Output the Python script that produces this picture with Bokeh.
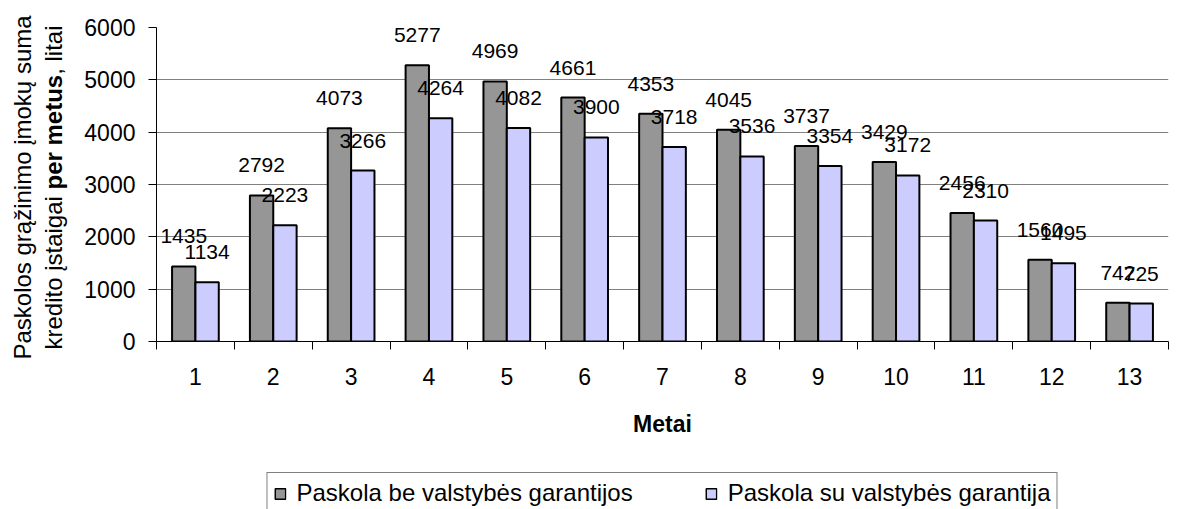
import math
from bokeh.plotting import figure
from bokeh.layouts import row, column
from bokeh.models import (ColumnDataSource, FixedTicker, LabelSet, Legend, LegendItem, Range1d)
from bokeh.core.properties import value
from bokeh.transform import dodge
from bokeh.embed import file_html
from bokeh.resources import INLINE

# ---- data ----
years = ["1", "2", "3", "4", "5", "6", "7", "8", "9", "10", "11", "12", "13"]
be_garantijos = [1435, 2792, 4073, 5277, 4969, 4661, 4353, 4045, 3737, 3429, 2456, 1560, 742]
su_garantija = [1134, 2223, 3266, 4264, 4082, 3900, 3718, 3536, 3354, 3172, 2310, 1495, 725]
series_names = ["Paskola be valstybės garantijos", "Paskola su valstybės garantija"]
y_ticks = [0, 1000, 2000, 3000, 4000, 5000, 6000]
x_title = "Metai"
y_title_line1 = "Paskolos grąžinimo įmokų suma"
y_title_line2 = [("kredito įstaigai ", "normal"), ("per metus", "bold"), (", litai", "normal")]

FONT = "Liberation Sans"
GRAY = "#969696"
BLUE = "#CCCCFF"

# ---- layout (page px) ----
PW, PH = 1181, 509
TW = 75                     # width of the y-title strip
FL, FR, FT, FB = 156, 1168, 27, 341   # plot frame edges on the page
MH = 455                    # main figure height
LH = PH - MH                # legend strip height

xs = list(range(1, len(years) + 1))
src = ColumnDataSource(dict(
    x=xs, be=be_garantijos, su=su_garantija,
    be_txt=[str(v) for v in be_garantijos], su_txt=[str(v) for v in su_garantija],
))

p = figure(width=PW - TW, height=MH, output_backend="svg", toolbar_location=None,
           x_range=(0.5, len(years) + 0.5), y_range=(y_ticks[0], y_ticks[-1]),
           min_border_left=FL - TW, min_border_right=PW - FR, min_border_top=FT,
           min_border_bottom=MH - FB)
p.outline_line_color = None
p.xgrid.visible = False
p.ygrid.grid_line_color = "#808080"
p.ygrid.grid_line_width = 1
p.ygrid.ticker = FixedTicker(ticks=y_ticks)

xa = p.xaxis[0]
xa.ticker = FixedTicker(ticks=xs, minor_ticks=[x - 0.5 for x in xs] + [xs[-1] + 0.5])
xa.major_label_overrides = {x: y for x, y in zip(xs, years)}
xa.major_tick_out = 0
xa.major_tick_in = 0
xa.minor_tick_out = 8
xa.minor_tick_in = 0
xa.minor_tick_line_color = "black"
xa.axis_line_color = "black"
xa.major_label_text_font = FONT
xa.major_label_text_font_size = "23px"
xa.major_label_text_color = "black"
xa.major_label_standoff = 18
xa.axis_label = x_title
xa.axis_label_text_font = FONT
xa.axis_label_text_font_size = "23px"
xa.axis_label_text_font_style = "bold"
xa.axis_label_text_color = "black"
xa.axis_label_standoff = 23

ya = p.yaxis[0]
ya.ticker = FixedTicker(ticks=y_ticks)
ya.minor_tick_line_color = None
ya.major_tick_out = 8
ya.major_tick_in = 0
ya.major_tick_line_color = "black"
ya.axis_line_color = "black"
ya.major_label_text_font = FONT
ya.major_label_text_font_size = "23px"
ya.major_label_text_color = "black"
ya.major_label_standoff = 13

# ---- bars ----
p.vbar(x=dodge("x", -0.15), top="be", width=0.3, source=src,
       fill_color=GRAY, line_color="black", line_width=2)
p.vbar(x=dodge("x", 0.15), top="su", width=0.3, source=src,
       fill_color=BLUE, line_color="black", line_width=2)

for col, off in (("be", -0.15), ("su", 0.15)):
    p.add_layout(LabelSet(x=dodge("x", off), y=col, text=col + "_txt", source=src,
                          y_offset=30, text_align="center", text_baseline="middle",
                          text_font=value(FONT), text_font_size="21px", text_color="black"))

# ---- y title strip ----
t = figure(width=TW, height=PH, output_backend="svg", toolbar_location=None,
           x_range=Range1d(0, TW), y_range=Range1d(0, PH),
           x_axis_type=None, y_axis_type=None,
           min_border_left=0, min_border_right=0, min_border_top=0, min_border_bottom=0)
t.outline_line_color = None
t.grid.visible = False

REG = {' ': 278, ',': 278, 'a': 556, 'd': 556, 'e': 556, 'g': 556, 'i': 222, 'k': 500,
       'l': 222, 'm': 833, 'o': 556, 'r': 333, 's': 500, 't': 278, 'u': 556, 'į': 222,
       'p': 556, 'n': 556}
BOLD = {' ': 278, 'p': 611, 'e': 556, 'r': 389, 'm': 889, 't': 333, 'u': 611, 's': 556}
YT_SIZE = 24

def twidth(s, style):
    tab = BOLD if style == "bold" else REG
    return sum(tab.get(c, 556) for c in s) / 1000 * YT_SIZE

center_py = (FT + FB) / 2 + 3
t.text(x=[22], y=[PH - center_py], text=[y_title_line1], angle=math.pi / 2,
       text_align="center", text_baseline="middle", text_font=value(FONT),
       text_font_size=f"{YT_SIZE}px", text_color="black")
total = sum(twidth(s, st) for s, st in y_title_line2)
start = center_py + total / 2
for s, st in y_title_line2:
    t.text(x=[53], y=[PH - start], text=[s], angle=math.pi / 2,
           text_align="left", text_baseline="middle", text_font=value(FONT),
           text_font_style=st, text_font_size=f"{YT_SIZE}px", text_color="black")
    start -= twidth(s, st)

# ---- legend strip ----
lg = figure(width=PW - TW, height=LH, output_backend="svg", toolbar_location=None,
            x_range=(0, 1), y_range=(0, 1), x_axis_type=None, y_axis_type=None,
            min_border_left=FL - TW, min_border_right=PW - FR, min_border_top=0,
            min_border_bottom=0)
lg.outline_line_color = None
lg.grid.visible = False
# key-only renderers (hidden; they only supply the legend swatches)
key_src = ColumnDataSource(dict(x=[0.5], top=[0.5]))
k1 = lg.vbar(x="x", top="top", width=0.01, source=key_src,
             fill_color=GRAY, line_color="black", line_width=1.5, visible=False)
k2 = lg.vbar(x="x", top="top", width=0.01, source=key_src,
             fill_color=BLUE, line_color="black", line_width=1.5, visible=False)
legend = Legend(items=[LegendItem(label=series_names[0], renderers=[k1]),
                       LegendItem(label=series_names[1], renderers=[k2])],
                orientation="horizontal", location="top_center",
                label_text_font=FONT, label_text_font_size="24px", label_text_color="black",
                glyph_width=13, glyph_height=13, label_standoff=10, spacing=72,
                padding=6, margin=472 - MH,
                inactive_fill_alpha=0,
                border_line_color="black", border_line_width=1,
                background_fill_color="white", background_fill_alpha=1)
lg.add_layout(legend)

layout = row(t, column(p, lg, spacing=0), spacing=0)
open("out.html", "w").write(file_html(layout, INLINE))
